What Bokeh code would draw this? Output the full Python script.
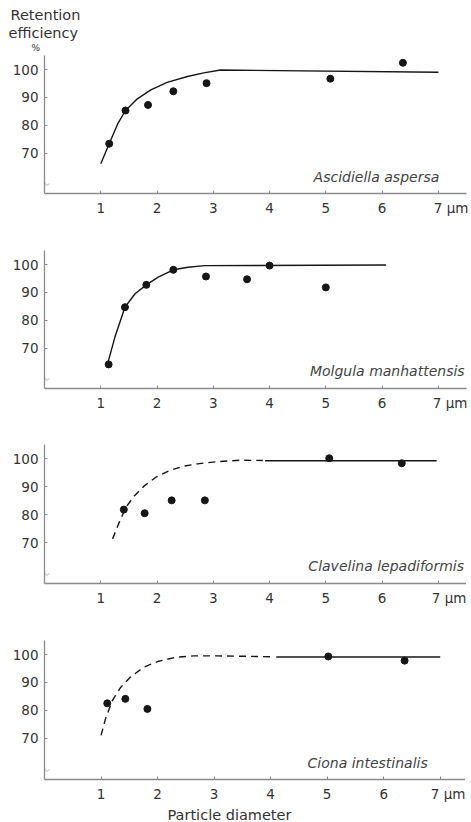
from bokeh.plotting import figure
from bokeh.layouts import column
from bokeh.models import Range1d, FixedTicker, Label, PolyAnnotation, Title
from bokeh.embed import file_html
from bokeh.resources import INLINE

# ---------------- data ----------------
x_ticks = [1, 2, 3, 4, 5, 6, 7]
y_ticks = [70, 80, 90, 100]
x_unit_label = "µm"
y_title = ["Retention", "efficiency", "%"]
x_title = "Particle diameter"

species = ["Ascidiella aspersa", "Molgula manhattensis",
           "Clavelina lepadiformis", "Ciona intestinalis"]

asc_pts_x = [1.15, 1.44, 1.84, 2.29, 2.88, 5.08, 6.37]
asc_pts_y = [73.4, 85.3, 87.3, 92.2, 95.1, 96.7, 102.4]
asc_fit_x = [1.00, 1.15, 1.30, 1.44, 1.65, 1.89, 2.18, 2.54, 2.83, 3.13, 7.00]
asc_fit_y = [66.2, 73.4, 80.5, 85.3, 89.5, 92.7, 95.4, 97.5, 98.8, 99.8, 99.0]

mol_pts_x = [1.14, 1.43, 1.81, 2.29, 2.87, 3.60, 4.00, 5.00]
mol_pts_y = [64.2, 84.7, 92.7, 98.1, 95.7, 94.7, 99.6, 91.8]
mol_fit_x = [1.13, 1.25, 1.43, 1.61, 1.81, 2.02, 2.29, 2.55, 2.85, 6.07]
mol_fit_y = [65.0, 73.9, 84.7, 89.5, 92.7, 95.5, 98.1, 99.0, 99.6, 99.8]

cla_pts_x = [1.41, 1.78, 2.26, 2.85, 5.06, 6.35]
cla_pts_y = [81.8, 80.5, 85.1, 85.1, 100.2, 98.4]
cla_dash_x = [1.21, 1.33, 1.45, 1.60, 1.78, 1.98, 2.22, 2.46, 2.72, 3.08, 3.49, 3.88]
cla_dash_y = [71.3, 77.3, 82.7, 86.8, 90.4, 93.4, 95.8, 97.3, 98.2, 99.0, 99.5, 99.4]
cla_fit_x = [3.92, 6.97]
cla_fit_y = [99.3, 99.3]

cio_pts_x = [1.11, 1.43, 1.82, 5.02, 6.37]
cio_pts_y = [82.5, 84.1, 80.5, 99.3, 97.8]
cio_dash_x = [1.00, 1.08, 1.20, 1.35, 1.52, 1.76, 2.02, 2.32, 2.64, 3.06, 4.05]
cio_dash_y = [71.0, 77.0, 83.5, 88.3, 91.9, 95.5, 97.6, 99.0, 99.5, 99.5, 99.2]
cio_fit_x = [4.10, 7.00]
cio_fit_y = [99.1, 99.1]

# ---------------- styling / layout ----------------
FONT = "DejaVu Sans"
AXIS_COL = "#8a8a8a"
TEXT_COL = "#333333"
INK = "#161616"
PX_Y = 2.79          # pixels per percent
FH = 141             # frame height
NBSP = "\u00a0"

# per panel: x of x=0, px per unit x, y of x-axis, y of 100, figure top, figure bottom
geo = [
    dict(x0=44, ux=56.3, ax=193, y100=69, top=0, bot=220),
    dict(x0=43, ux=56.25, ax=388, y100=264, top=220, bot=415),
    dict(x0=42, ux=56.2, ax=583, y100=458.3, top=415, bot=610),
    dict(x0=39, ux=56.5, ax=779, y100=654, top=610, bot=820),
]
label_pos = [(439, 176), (463, 370), (461, 565), (422, 762)]

series = [
    (asc_pts_x, asc_pts_y, None, None, asc_fit_x, asc_fit_y),
    (mol_pts_x, mol_pts_y, None, None, mol_fit_x, mol_fit_y),
    (cla_pts_x, cla_pts_y, cla_dash_x, cla_dash_y, cla_fit_x, cla_fit_y),
    (cio_pts_x, cio_pts_y, cio_dash_x, cio_dash_y, cio_fit_x, cio_fit_y),
]

panels = []
for i, g in enumerate(geo):
    y0 = 100 - (g["ax"] - g["y100"]) / PX_Y
    y1 = y0 + FH / PX_Y
    fw = int(round(7.5 * g["ux"]))
    left = int(round(g["x0"]))
    top_b = int(round(g["ax"] - FH - g["top"]))
    bot_b = int(round(g["bot"] - g["ax"]))

    def sx(px, g=g):
        return (px - g["x0"]) / g["ux"]

    def sy(py, g=g):
        return 100 - (py - g["y100"]) / PX_Y

    p = figure(frame_width=fw, frame_height=FH,
               x_range=Range1d(0, 7.5), y_range=Range1d(y0, y1),
               output_backend="svg", toolbar_location=None, title=None,
               min_border_left=left, min_border_right=2,
               min_border_top=top_b, min_border_bottom=bot_b)
    p.outline_line_color = None
    p.xgrid.visible = False
    p.ygrid.visible = False

    for ax in (p.xaxis, p.yaxis):
        ax.axis_line_color = AXIS_COL
        ax.axis_line_width = 1.3
        ax.major_tick_line_color = AXIS_COL
        ax.major_tick_in = 3
        ax.major_tick_out = 0
        ax.minor_tick_line_color = None
        ax.major_label_text_font = FONT
        ax.major_label_text_font_size = "13.5px"
        ax.major_label_text_color = TEXT_COL
    p.xaxis.ticker = FixedTicker(ticks=x_ticks)
    p.xaxis.major_label_overrides = {7: NBSP * 6 + "7 " + x_unit_label}
    p.yaxis.ticker = FixedTicker(ticks=y_ticks)
    p.yaxis.bounds = (y0, 105)
    p.xaxis.major_label_standoff = 6
    p.yaxis.major_label_standoff = 6

    px_, py_, dx_, dy_, fx_, fy_ = series[i]
    if dx_ is not None:
        p.line(dx_, dy_, line_color=INK, line_width=1.4, line_dash="7 5")
    p.line(fx_, fy_, line_color=INK, line_width=1.4)
    p.scatter(px_, py_, size=7, color=INK)

    # species label
    lx, ly = label_pos[i]
    p.add_layout(Label(x=sx(lx), y=sy(ly), text=species[i], text_align="right",
                       text_baseline="middle", text_font=FONT,
                       text_font_style="italic", text_font_size="14px",
                       text_color="#444444"))
    # axis break mark
    bx = [sx(g["x0"] - 9), sx(g["x0"] - 4), sx(g["x0"] - 1), sx(g["x0"] + 2),
          sx(g["x0"] + 5), sx(g["x0"] + 2), sx(g["x0"] - 1), sx(g["x0"] - 4)]
    by = [sy(g["ax"] - 10), sy(g["ax"] - 10), sy(g["ax"] - 12), sy(g["ax"] - 8),
          sy(g["ax"] - 10), sy(g["ax"] - 8), sy(g["ax"] - 12), sy(g["ax"] - 10)]
    p.add_layout(PolyAnnotation(xs=bx, ys=by, fill_alpha=0,
                                line_color="#555555", line_width=1.2))

    if i == 0:
        p.add_layout(Title(text=y_title[2], align="left", offset=-13, standoff=0,
                           text_font=FONT, text_font_size="9px",
                           text_font_style="normal", text_color=TEXT_COL), "above")
        p.add_layout(Title(text=y_title[1], align="left", offset=-36, standoff=0,
                           text_font=FONT, text_font_size="14.5px",
                           text_font_style="normal", text_color=TEXT_COL), "above")
        p.add_layout(Title(text=y_title[0], align="left", offset=-34, standoff=0,
                           text_font=FONT, text_font_size="14.5px",
                           text_font_style="normal", text_color=TEXT_COL), "above")
    if i == 3:
        p.add_layout(Title(text=x_title, align="left", offset=123, standoff=0,
                           text_font=FONT, text_font_size="14.5px",
                           text_font_style="normal", text_color=TEXT_COL), "below")
    panels.append(p)

layout = column(*panels, spacing=0)
open("out.html", "w").write(file_html(layout, INLINE))
